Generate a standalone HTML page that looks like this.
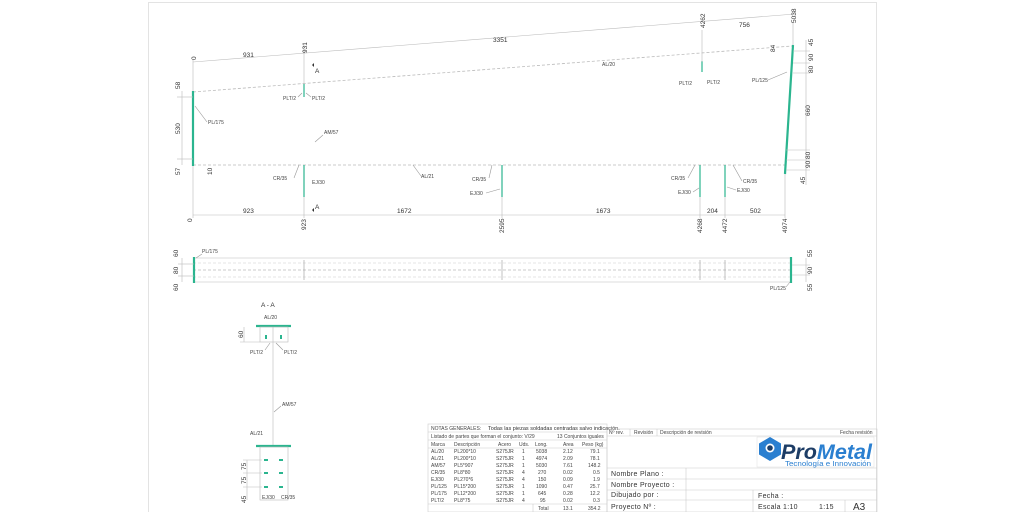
<!DOCTYPE html>
<html><head><meta charset="utf-8"><style>
html,body{margin:0;padding:0;background:#fff;}
svg{display:block;font-family:"Liberation Sans",Arial,sans-serif;}
.t{font-size:5px;fill:#444;}
.d{font-size:6.5px;fill:#333;}
.l{stroke:#bbb;stroke-width:0.6;fill:none;}
.k{stroke:#999;stroke-width:0.6;fill:none;}
.g{stroke:#2bb58f;stroke-width:2.2;fill:none;}
.dash{stroke:#bbb;stroke-width:0.8;stroke-dasharray:3 2;fill:none;}
.tb{stroke:#ccc;stroke-width:0.6;fill:none;}
.f{font-size:7px;fill:#333;letter-spacing:0.3px;}
</style></head><body>
<svg width="1024" height="512" viewBox="0 0 1024 512" xmlns="http://www.w3.org/2000/svg">
<rect x="0" y="0" width="1024" height="512" fill="#fff"/>
<rect x="148.5" y="2.5" width="728" height="515" fill="none" stroke="#ddd" stroke-width="0.8"/>

<line class="dash" x1="193" y1="92" x2="792" y2="46"/>
<line class="dash" x1="193" y1="165" x2="785" y2="165"/>
<line class="g" x1="193" y1="91" x2="193" y2="166"/>
<line class="g" x1="793" y1="45" x2="785" y2="174"/>
<line class="g" x1="304" y1="84" x2="304" y2="97" style="stroke-width:1.2"/>
<line class="g" x1="702" y1="61" x2="702" y2="72" style="stroke-width:1.2"/>
<line class="g" x1="304" y1="165" x2="304" y2="197" style="stroke-width:1.2"/>
<line class="g" x1="502" y1="165" x2="502" y2="197" style="stroke-width:1.2"/>
<line class="g" x1="700" y1="165" x2="700" y2="197" style="stroke-width:1.2"/>
<line class="g" x1="725" y1="165" x2="725" y2="197" style="stroke-width:1.2"/>

<line class="l" x1="193" y1="62" x2="795" y2="14"/>
<line class="l" x1="193" y1="60" x2="193" y2="91"/>
<line class="l" x1="304" y1="45" x2="304" y2="84"/>
<line class="l" x1="702" y1="30" x2="702" y2="62"/>
<line class="l" x1="793" y1="22" x2="793" y2="45"/>
<text class="d" x="196" y="60" transform="rotate(-90 196 60)">0</text>
<text class="d" x="243" y="57">931</text>
<text class="d" x="307" y="53" transform="rotate(-90 307 53)">931</text>
<text class="d" x="493" y="42">3351</text>
<text class="d" x="705" y="28" transform="rotate(-90 705 28)">4262</text>
<text class="d" x="739" y="27">756</text>
<text class="d" x="796" y="23" transform="rotate(-90 796 23)">5038</text>
<text class="d" x="775" y="52" transform="rotate(-90 775 52)">84</text>
<text class="d" x="315" y="73">A</text><path d="M312 65 l2 -2 0 4z" fill="#333"/>
<text class="d" x="315" y="209">A</text><path d="M312 210 l2 -2 0 4z" fill="#333"/>

<line class="l" x1="182" y1="91" x2="182" y2="165"/>
<line class="l" x1="177" y1="97" x2="193" y2="97"/>
<line class="l" x1="177" y1="159" x2="193" y2="159"/>
<text class="d" x="180" y="89" transform="rotate(-90 180 89)">58</text>
<text class="d" x="180" y="134" transform="rotate(-90 180 134)">530</text>
<text class="d" x="180" y="175" transform="rotate(-90 180 175)">57</text>
<text class="d" x="212" y="175" transform="rotate(-90 212 175)">10</text>

<line class="l" x1="806" y1="40" x2="806" y2="185"/>
<line class="l" x1="793" y1="51" x2="810" y2="51"/>
<line class="l" x1="793" y1="63" x2="810" y2="63"/>
<line class="l" x1="793" y1="73" x2="810" y2="73"/>
<line class="l" x1="786" y1="150" x2="810" y2="150"/>
<line class="l" x1="786" y1="160" x2="810" y2="160"/>
<line class="l" x1="786" y1="170" x2="810" y2="170"/>
<text class="d" x="813" y="46" transform="rotate(-90 813 46)">45</text>
<text class="d" x="813" y="61" transform="rotate(-90 813 61)">90</text>
<text class="d" x="813" y="73" transform="rotate(-90 813 73)">80</text>
<text class="d" x="810" y="116" transform="rotate(-90 810 116)">660</text>
<text class="d" x="810" y="159" transform="rotate(-90 810 159)">80</text>
<text class="d" x="810" y="168" transform="rotate(-90 810 168)">90</text>
<text class="d" x="805" y="184" transform="rotate(-90 805 184)">45</text>

<line class="l" x1="193" y1="215" x2="785" y2="215"/>
<line class="l" x1="193" y1="166" x2="193" y2="218"/>
<line class="l" x1="304" y1="197" x2="304" y2="218"/>
<line class="l" x1="502" y1="197" x2="502" y2="218"/>
<line class="l" x1="700" y1="197" x2="700" y2="218"/>
<line class="l" x1="725" y1="197" x2="725" y2="218"/>
<line class="l" x1="785" y1="174" x2="785" y2="218"/>
<text class="d" x="192" y="222" transform="rotate(-90 192 222)">0</text>
<text class="d" x="243" y="213">923</text>
<text class="d" x="397" y="213">1672</text>
<text class="d" x="596" y="213">1673</text>
<text class="d" x="707" y="213">204</text>
<text class="d" x="750" y="213">502</text>
<text class="d" x="306" y="230" transform="rotate(-90 306 230)">923</text>
<text class="d" x="504" y="233" transform="rotate(-90 504 233)">2595</text>
<text class="d" x="702" y="233" transform="rotate(-90 702 233)">4268</text>
<text class="d" x="727" y="233" transform="rotate(-90 727 233)">4472</text>
<text class="d" x="787" y="233" transform="rotate(-90 787 233)">4974</text>

<text class="t" x="283" y="100">PLT/2</text><text class="t" x="312" y="100">PLT/2</text>
<line class="k" x1="302" y1="93" x2="298" y2="97"/><line class="k" x1="306" y1="93" x2="311" y2="97"/>
<text class="t" x="208" y="124">PL/175</text><line class="k" x1="195" y1="106" x2="207" y2="122"/>
<text class="t" x="324" y="134">AM/57</text><line class="k" x1="315" y1="142" x2="323" y2="135"/>
<text class="t" x="602" y="66">AL/20</text>
<text class="t" x="679" y="85">PLT/2</text><text class="t" x="707" y="84">PLT/2</text>
<text class="t" x="752" y="82">PL/125</text><line class="k" x1="768" y1="80" x2="787" y2="72"/>
<text class="t" x="273" y="180">CR/35</text><line class="k" x1="294" y1="178" x2="299" y2="165"/>
<text class="t" x="312" y="184">EJ/30</text>
<text class="t" x="421" y="178">AL/21</text><line class="k" x1="413" y1="165" x2="421" y2="176"/>
<text class="t" x="472" y="181">CR/35</text><line class="k" x1="489" y1="178" x2="492" y2="165"/>
<text class="t" x="470" y="195">EJ/30</text><line class="k" x1="486" y1="193" x2="500" y2="189"/>
<text class="t" x="671" y="180">CR/35</text><line class="k" x1="688" y1="178" x2="695" y2="165"/>
<text class="t" x="678" y="194">EJ/30</text><line class="k" x1="693" y1="192" x2="699" y2="188"/>
<text class="t" x="743" y="183">CR/35</text><line class="k" x1="742" y1="181" x2="733" y2="165"/>
<text class="t" x="737" y="192">EJ/30</text><line class="k" x1="736" y1="190" x2="727" y2="187"/>

<line class="l" x1="193" y1="258" x2="792" y2="258"/>
<line class="l" x1="193" y1="282" x2="792" y2="282"/>
<line class="dash" x1="193" y1="263" x2="792" y2="263" style="stroke:#ddd"/>
<line class="dash" x1="193" y1="277" x2="792" y2="277" style="stroke:#ddd"/>
<line class="dash" x1="193" y1="270" x2="792" y2="270"/>
<line class="g" x1="194" y1="257" x2="194" y2="283"/>
<line class="g" x1="791" y1="257" x2="791" y2="283"/>
<g class="k"><line x1="304" y1="260" x2="304" y2="280"/><line x1="502" y1="260" x2="502" y2="280"/><line x1="700" y1="260" x2="700" y2="280"/><line x1="725" y1="260" x2="725" y2="280"/></g>
<line class="l" x1="182" y1="258" x2="182" y2="282"/>
<line class="l" x1="178" y1="264" x2="194" y2="264"/><line class="l" x1="178" y1="276" x2="194" y2="276"/>
<text class="d" x="178" y="257" transform="rotate(-90 178 257)">60</text>
<text class="d" x="178" y="274" transform="rotate(-90 178 274)">80</text>
<text class="d" x="178" y="291" transform="rotate(-90 178 291)">60</text>
<text class="t" x="202" y="253">PL/175</text><line class="k" x1="196" y1="258" x2="202" y2="254"/>
<text class="t" x="770" y="290">PL/125</text><line class="k" x1="786" y1="287" x2="790" y2="282"/>
<line class="l" x1="806" y1="258" x2="806" y2="282"/>
<line class="l" x1="792" y1="265" x2="810" y2="265"/><line class="l" x1="792" y1="275" x2="810" y2="275"/>
<text class="d" x="812" y="257" transform="rotate(-90 812 257)">55</text>
<text class="d" x="812" y="274" transform="rotate(-90 812 274)">90</text>
<text class="d" x="812" y="291" transform="rotate(-90 812 291)">55</text>

<text class="d" x="261" y="307">A - A</text>
<text class="t" x="264" y="319">AL/20</text>
<line class="g" x1="256" y1="326" x2="291" y2="326"/>
<rect class="l" x="260" y="327" width="28" height="15"/>
<line class="l" x1="273" y1="327" x2="273" y2="445"/>
<rect x="265" y="335" width="2" height="4" fill="#2bb58f"/><rect x="280" y="335" width="2" height="4" fill="#2bb58f"/>
<line class="l" x1="244" y1="327" x2="244" y2="342"/><line class="l" x1="240" y1="342" x2="260" y2="342"/>
<text class="d" x="243" y="338" transform="rotate(-90 243 338)">60</text>
<text class="t" x="250" y="354">PLT/2</text><text class="t" x="284" y="354">PLT/2</text>
<line class="k" x1="270" y1="343" x2="265" y2="350"/><line class="k" x1="276" y1="343" x2="283" y2="350"/>
<text class="t" x="282" y="406">AM/57</text><line class="k" x1="274" y1="412" x2="281" y2="406"/>
<text class="t" x="250" y="435">AL/21</text>
<line class="g" x1="256" y1="446" x2="291" y2="446"/>
<rect class="l" x="260" y="447" width="28" height="53"/>
<g fill="#2bb58f"><rect x="264" y="459" width="4" height="2"/><rect x="279" y="459" width="4" height="2"/>
<rect x="264" y="472" width="4" height="2"/><rect x="279" y="472" width="4" height="2"/>
<rect x="264" y="486" width="4" height="2"/><rect x="279" y="486" width="4" height="2"/></g>
<line class="l" x1="247" y1="460" x2="247" y2="500"/>
<g class="l"><line x1="243" y1="460" x2="262" y2="460"/><line x1="243" y1="473" x2="262" y2="473"/><line x1="243" y1="487" x2="262" y2="487"/></g>
<text class="d" x="246" y="470" transform="rotate(-90 246 470)">75</text>
<text class="d" x="246" y="484" transform="rotate(-90 246 484)">75</text>
<text class="d" x="246" y="503" transform="rotate(-90 246 503)">45</text>
<text class="t" x="262" y="499">EJ/30</text><text class="t" x="281" y="499">CR/35</text>

<rect class="tb" x="428" y="424" width="179" height="88"/>
<text class="t" x="431" y="430">NOTAS GENERALES:</text>
<text style="font-size:5.5px;fill:#333" x="488" y="430">Todas las piezas soldadas centradas salvo indicación.</text>
<line class="tb" x1="428" y1="432" x2="607" y2="432"/>
<text class="t" x="431" y="438">Listado de partes que forman el conjunto: V/29</text>
<text class="t" x="557" y="438">13 Conjuntos iguales</text>
<line class="tb" x1="428" y1="440" x2="607" y2="440"/>
<g class="t">
<text x="431" y="446">Marca</text><text x="454" y="446">Descripción</text><text x="498" y="446">Acero</text><text x="519" y="446">Uds.</text><text x="535" y="446">Long.</text><text x="563" y="446">Area</text><text x="582" y="446">Peso (kg)</text>
</g>
<line class="tb" x1="428" y1="448" x2="607" y2="448"/>
<g class="t">
<text x="431" y="453">AL/20</text><text x="454" y="453">PL200*10</text><text x="496" y="453">S275JR</text><text x="522" y="453">1</text><text x="536" y="453">5038</text><text x="563" y="453">2.12</text><text x="590" y="453">79.1</text>
<text x="431" y="460">AL/21</text><text x="454" y="460">PL200*10</text><text x="496" y="460">S275JR</text><text x="522" y="460">1</text><text x="536" y="460">4974</text><text x="563" y="460">2.09</text><text x="590" y="460">78.1</text>
<text x="431" y="467">AM/57</text><text x="454" y="467">PL5*907</text><text x="496" y="467">S275JR</text><text x="522" y="467">1</text><text x="536" y="467">5030</text><text x="563" y="467">7.61</text><text x="588" y="467">148.2</text>
<text x="431" y="474">CR/35</text><text x="454" y="474">PL8*80</text><text x="496" y="474">S275JR</text><text x="522" y="474">4</text><text x="538" y="474">270</text><text x="563" y="474">0.02</text><text x="593" y="474">0.5</text>
<text x="431" y="481">EJ/30</text><text x="454" y="481">PL270*6</text><text x="496" y="481">S275JR</text><text x="522" y="481">4</text><text x="538" y="481">150</text><text x="563" y="481">0.09</text><text x="593" y="481">1.9</text>
<text x="431" y="488">PL/125</text><text x="454" y="488">PL15*200</text><text x="496" y="488">S275JR</text><text x="522" y="488">1</text><text x="536" y="488">1090</text><text x="563" y="488">0.47</text><text x="590" y="488">25.7</text>
<text x="431" y="495">PL/175</text><text x="454" y="495">PL12*200</text><text x="496" y="495">S275JR</text><text x="522" y="495">1</text><text x="538" y="495">645</text><text x="563" y="495">0.28</text><text x="590" y="495">12.2</text>
<text x="431" y="502">PLT/2</text><text x="454" y="502">PL8*75</text><text x="496" y="502">S275JR</text><text x="522" y="502">4</text><text x="540" y="502">95</text><text x="563" y="502">0.02</text><text x="593" y="502">0.3</text>
<text x="538" y="510">Total</text><text x="563" y="510">13.1</text><text x="588" y="510">354.2</text>
</g>
<line class="tb" x1="428" y1="504" x2="607" y2="504"/>
<line class="tb" x1="533" y1="504" x2="533" y2="512"/>

<rect class="tb" x="607" y="429" width="270" height="83"/>
<line class="tb" x1="607" y1="436" x2="877" y2="436"/>
<g class="t"><text x="609" y="434">Nº rev.</text><text x="634" y="434">Revisión</text><text x="660" y="434">Descripción de revisión</text><text x="840" y="434">Fecha revisión</text></g>
<line class="tb" x1="630" y1="429" x2="630" y2="436"/><line class="tb" x1="657" y1="429" x2="657" y2="436"/>

<rect x="757" y="437" width="117" height="30" fill="#fff" stroke="#e4e4e4" stroke-width="0.6"/>
<path d="M770 437 l11 6.5 v11 l-11 6.5 l-11 -6.5 v-11z" fill="#2a7fd0"/>
<circle cx="770" cy="448" r="4.5" fill="#fff"/><circle cx="770" cy="448" r="2.8" fill="#1d3d66"/>
<text x="781" y="459" textLength="91" lengthAdjust="spacingAndGlyphs" style="font-size:21px;font-weight:bold;font-style:italic;fill:#1d3d66">Pro<tspan style="fill:#2a7fd0">Metal</tspan></text>
<text x="785" y="466" textLength="86" lengthAdjust="spacingAndGlyphs" style="font-size:7px;fill:#2a7fd0">Tecnología e Innovación</text>

<line class="tb" x1="607" y1="468" x2="877" y2="468"/>
<line class="tb" x1="607" y1="479" x2="877" y2="479"/>
<line class="tb" x1="607" y1="490" x2="877" y2="490"/>
<line class="tb" x1="607" y1="500" x2="877" y2="500"/>
<line class="tb" x1="686" y1="468" x2="686" y2="512"/>
<line class="tb" x1="753" y1="490" x2="753" y2="512"/>
<line class="tb" x1="845" y1="500" x2="845" y2="512"/>
<text class="f" x="611" y="476">Nombre Plano :</text>
<text class="f" x="611" y="487">Nombre Proyecto :</text>
<text class="f" x="611" y="497">Dibujado por :</text>
<text class="f" x="611" y="509">Proyecto Nº :</text>
<text class="f" x="758" y="498">Fecha :</text>
<text class="f" x="758" y="509">Escala 1:10</text>
<text class="f" x="819" y="509">1:15</text>
<text x="853" y="510" style="font-size:10px;fill:#333">A3</text>
</svg>
</body></html>
